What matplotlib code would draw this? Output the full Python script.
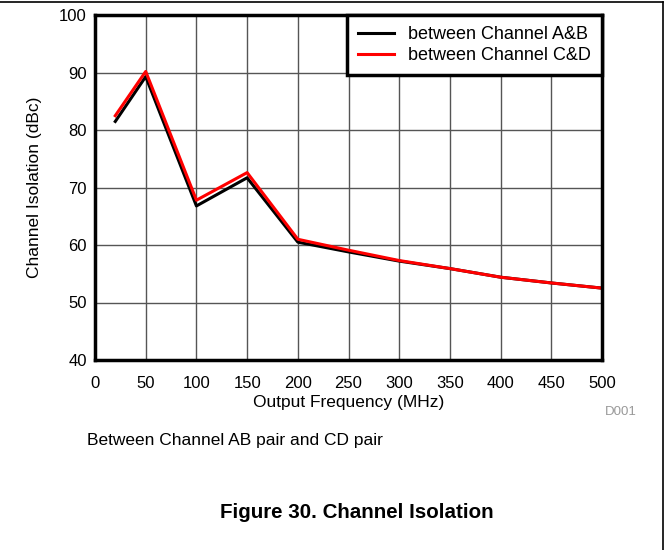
import matplotlib
matplotlib.use("Agg")
import matplotlib.pyplot as plt
from matplotlib.lines import Line2D

plt.rcParams['font.family'] = ['Liberation Sans', 'DejaVu Sans']

freq = [20, 50, 100, 150, 200, 250, 300, 350, 400, 450, 500]
iso_ab = [81.5, 89.3, 66.8, 71.7, 60.5, 58.8, 57.2, 55.9, 54.4, 53.4, 52.5]
iso_cd = [82.5, 90.2, 67.8, 72.6, 61.0, 59.1, 57.3, 55.9, 54.4, 53.4, 52.5]

x_ticks = [0, 50, 100, 150, 200, 250, 300, 350, 400, 450, 500]
y_ticks = [40, 50, 60, 70, 80, 90, 100]

fig = plt.figure(figsize=(6.69, 5.5), dpi=100)
ax = fig.add_axes([0.142, 0.3455, 0.758, 0.627])

ax.plot(freq, iso_ab, color="black", lw=2.2, label="between Channel A&B")
ax.plot(freq, iso_cd, color="red", lw=2.2, label="between Channel C&D")

ax.set_xlim(0, 500)
ax.set_ylim(40, 100)
ax.set_xticks(x_ticks)
ax.set_yticks(y_ticks)
ax.tick_params(labelsize=12, length=0)
ax.tick_params(axis="x", pad=11.5)
ax.tick_params(axis="y", pad=6)
ax.grid(True, color="#555555", lw=1)
ax.set_axisbelow(True)
for s in ax.spines.values():
    s.set_linewidth(2.5)

ax.set_xlabel("Output Frequency (MHz)", fontsize=12.5, labelpad=3)
ax.set_ylabel("Channel Isolation (dBc)", fontsize=12.5, labelpad=12)

leg = ax.legend(loc="upper right", fontsize=13, fancybox=False, framealpha=1,
                edgecolor="black", borderaxespad=0, handlelength=2.0,
                handletextpad=0.8, labelspacing=0.25, borderpad=0.6)
leg.get_frame().set_linewidth(2.5)

fig.text(0.952, 0.245, "D001", fontsize=9.5, color="#999999", ha="right")
fig.text(0.13, 0.19, "Between Channel AB pair and CD pair", fontsize=12.5)
fig.text(0.534, 0.058, "Figure 30. Channel Isolation", fontsize=14.8,
         fontweight="bold", ha="center")

# page frame lines (top and right)
fig.add_artist(Line2D([0, 0.991], [0.996, 0.996], color="black", lw=1.2,
                      transform=fig.transFigure))
fig.add_artist(Line2D([0.991, 0.991], [0, 0.996], color="black", lw=1.2,
                      transform=fig.transFigure))

fig.savefig("out.png", dpi=100)
